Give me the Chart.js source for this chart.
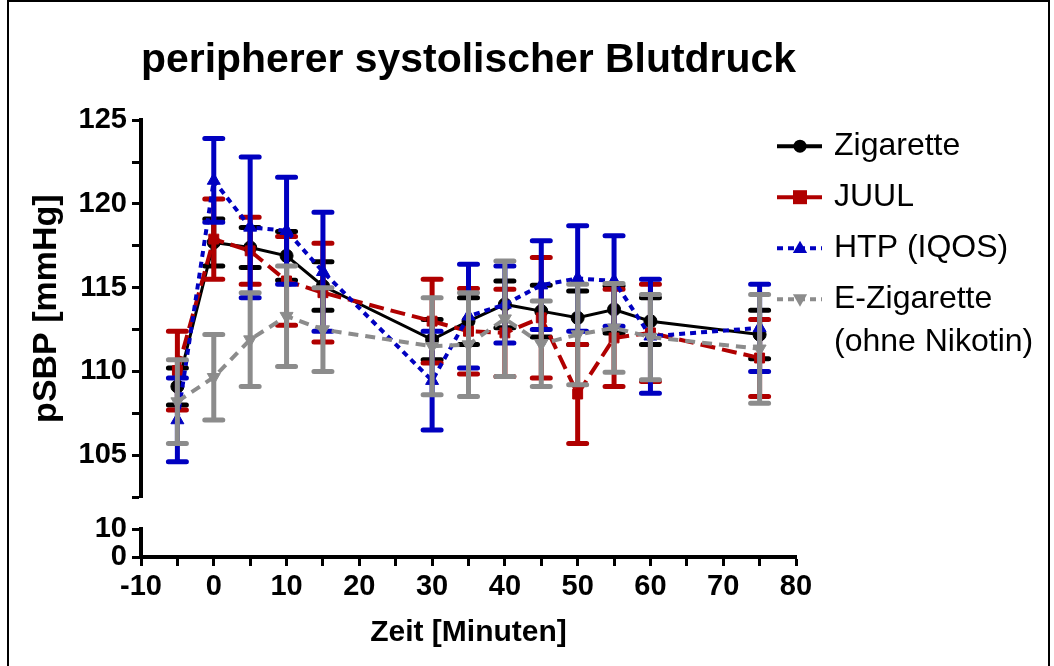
<!DOCTYPE html>
<html>
<head>
<meta charset="utf-8">
<script src="https://cdn.jsdelivr.net/npm/chart.js@4.4.0/dist/chart.umd.min.js"></script>
<style>
  html, body { margin:0; padding:0; background:#fff; }
  #wrap { position:relative; width:1054px; height:666px; overflow:hidden; }
  #frame { position:absolute; left:7px; top:0; width:1043px; height:672px; border:2px solid #000; box-sizing:border-box; pointer-events:none; }
</style>
</head>
<body>
<div id="wrap">
  <canvas id="bp" width="1054" height="666"></canvas>
  <div id="frame"></div>
</div>
<script>
// Zeitpunkte in Minuten
const zeit = [-5, 0, 5, 10, 15, 30, 35, 40, 45, 50, 55, 60, 75];

// Mittelwerte und Fehler
const zigMittel  = [109.1, 117.7, 117.4, 116.9, 115.1, 111.9, 113.0, 114.0, 113.6, 113.2, 113.7, 113.0, 112.2];
const zigFehler  = [1.1, 1.4, 1.2, 1.45, 1.45, 1.2, 1.4, 1.4, 1.55, 1.6, 1.4, 1.4, 1.45];
const juulMittel = [110.05, 117.9, 117.2, 115.4, 114.7, 113.0, 112.4, 112.3, 113.2, 108.65, 112.0, 112.3, 110.8];
const juulFehler = [2.35, 2.4, 2.0, 2.65, 2.95, 2.5, 2.55, 2.6, 3.6, 2.95, 2.9, 2.9, 2.3];
const htpMittel  = [107.1, 121.4, 118.6, 118.4, 115.95, 109.45, 113.3, 114.0, 115.15, 115.55, 115.4, 112.1, 112.6];
const htpFehler  = [2.5, 2.5, 4.2, 3.2, 3.55, 2.95, 3.1, 2.3, 2.65, 3.15, 2.7, 3.4, 2.6];
const ezigMittel = [108.2, 109.65, 111.9, 113.3, 112.5, 111.5, 111.6, 113.15, 111.65, 112.2, 112.6, 112.05, 111.35];
const ezigFehler = [2.5, 2.55, 2.8, 3.0, 2.5, 2.9, 3.1, 3.45, 2.55, 3.0, 2.65, 2.55, 3.25];

const serien = ['Zigarette', 'JUUL', 'HTP (IQOS)', 'E-Zigarette (ohne Nikotin)'];
const legendenText = [['Zigarette'], ['JUUL'], ['HTP (IQOS)'], ['E-Zigarette', '(ohne Nikotin)']];

const mittel = [zigMittel, juulMittel, htpMittel, ezigMittel];
const fehler = [zigFehler, juulFehler, htpFehler, ezigFehler];
const farben = ['#000000', '#b00000', '#0000c0', '#8c8c8c'];
const striche = [[], [15, 7], [6, 5], [10, 7]];
const legendeStriche = [[], [], [6, 5], [6, 5]];
const punkte = ['circle', 'rect', 'triangle', 'triangle'];
const drehung = [0, 0, 0, 180];
const radien = [6.5, 7, 7.5, 7.5];

const FONT = '"Liberation Sans", Arial, sans-serif';
Chart.defaults.font.family = FONT;
Chart.defaults.color = '#000';

const datasets = serien.map((name, i) => ({
    label: name,
    data: zeit.map((t, j) => ({x: t, y: mittel[i][j]})),
    fehler: fehler[i],
    borderColor: farben[i],
    backgroundColor: farben[i],
    borderWidth: i === 0 ? 3 : 4,
    borderDash: striche[i],
    pointStyle: punkte[i],
    rotation: drehung[i],
    pointRadius: radien[i],
    pointBorderWidth: 1,
    yAxisID: 'y',
    order: 4 - i
}));

// Fehlerbalken je Datensatz, direkt vor der Linie gezeichnet
const fehlerbalken = {
    id: 'fehlerbalken',
    beforeDatasetDraw(chart, args) {
        const ds = chart.data.datasets[args.index];
        const ys = chart.scales.y;
        const ctx = chart.ctx;
        ctx.save();
        ctx.strokeStyle = ds.borderColor;
        ctx.lineWidth = 5;
        ctx.lineCap = 'round';
        args.meta.data.forEach((pt, j) => {
            const m = ds.data[j].y, e = ds.fehler[j];
            const yo = ys.getPixelForValue(m + e), yu = ys.getPixelForValue(m - e);
            ctx.beginPath();
            ctx.moveTo(pt.x, yo); ctx.lineTo(pt.x, yu);
            ctx.moveTo(pt.x - 9, yo); ctx.lineTo(pt.x + 9, yo);
            ctx.moveTo(pt.x - 9, yu); ctx.lineTo(pt.x + 9, yu);
            ctx.stroke();
        });
        ctx.restore();
    }
};

function marker(ctx, stil, x, y, r, rot) {
    ctx.beginPath();
    if (stil === 'circle') {
        ctx.arc(x, y, r, 0, Math.PI * 2);
    } else if (stil === 'rect') {
        ctx.rect(x - r, y - r, 2 * r, 2 * r);
    } else {
        const s = rot ? -1 : 1;
        ctx.moveTo(x, y - s * r);
        ctx.lineTo(x + r * 0.95, y + s * r * 0.65);
        ctx.lineTo(x - r * 0.95, y + s * r * 0.65);
        ctx.closePath();
    }
    ctx.fill();
}

// Legende rechts neben dem Diagramm
const legende = {
    id: 'legende',
    afterDraw(chart) {
        const ctx = chart.ctx;
        const r = chart.chartArea.right, top = chart.chartArea.top;
        ctx.save();
        legendenText.forEach((zeilen, i) => {
            const y = top + 26 + i * 51;
            ctx.strokeStyle = farben[i];
            ctx.fillStyle = farben[i];
            ctx.lineWidth = 4;
            ctx.setLineDash(legendeStriche[i]);
            ctx.beginPath();
            ctx.moveTo(r - 19, y); ctx.lineTo(r + 26, y);
            ctx.stroke();
            ctx.setLineDash([]);
            marker(ctx, punkte[i], r + 4, y, radien[i], drehung[i]);
            ctx.fillStyle = '#000';
            ctx.font = '32px ' + FONT;
            ctx.textBaseline = 'middle';
            ctx.textAlign = 'left';
            zeilen.forEach((t, k) => ctx.fillText(t, r + 38, y + k * 43));
        });
        ctx.restore();
    }
};

const tickFont = {family: FONT, size: 29, weight: 'bold'};
const gitter = {display: true, drawOnChartArea: false, drawTicks: true, tickLength: 9, tickWidth: 3, tickColor: '#000'};
const rand = {display: true, color: '#000', width: 4};

new Chart(document.getElementById('bp'), {
    type: 'line',
    data: {datasets: datasets},
    options: {
        responsive: false,
        animation: false,
        layout: {padding: {left: 0, right: 258, top: 0, bottom: 0}},
        plugins: {
            legend: {display: false},
            tooltip: {enabled: false},
            title: {
                display: true,
                fullSize: false,
                text: 'peripherer systolischer Blutdruck',
                color: '#000',
                font: {family: FONT, size: 41, weight: 'bold'},
                padding: {top: 36, bottom: 35}
            }
        },
        scales: {
            x: {
                type: 'linear', min: -10, max: 80,
                ticks: {stepSize: 5, autoSkip: false, maxRotation: 0, font: tickFont, padding: 4,
                        callback: v => (v % 10 === 0 ? String(v) : '')},
                grid: gitter, border: rand,
                title: {display: true, text: 'Zeit [Minuten]', font: {family: FONT, size: 30, weight: 'bold'},
                        padding: {top: 0, bottom: 15}},
                afterFit: s => { s.height = 109; }
            },
            y0: {
                type: 'linear', position: 'left', stack: 'links', stackWeight: 28, min: 0, max: 10,
                ticks: {stepSize: 10, autoSkip: false, font: tickFont, padding: 5},
                grid: gitter, border: rand,
                afterFit: s => { s.width = 141; }
            },
            luecke: {
                type: 'linear', position: 'left', stack: 'links', stackWeight: 32, min: 0, max: 1,
                ticks: {display: false}, grid: {display: false}, border: {display: false},
                afterFit: s => { s.width = 141; }
            },
            y: {
                type: 'linear', position: 'left', stack: 'links', stackWeight: 377, min: 102.5, max: 125,
                ticks: {stepSize: 2.5, autoSkip: false, font: tickFont, padding: 5,
                        callback: v => (v % 5 === 0 ? String(v) : '')},
                grid: gitter, border: rand,
                title: {display: true, text: 'pSBP [mmHg]', font: {family: FONT, size: 34, weight: 'bold'},
                        padding: {top: 26, bottom: 0}},
                afterFit: s => { s.width = 141; }
            }
        }
    },
    plugins: [fehlerbalken, legende]
});
</script>
</body>
</html>
